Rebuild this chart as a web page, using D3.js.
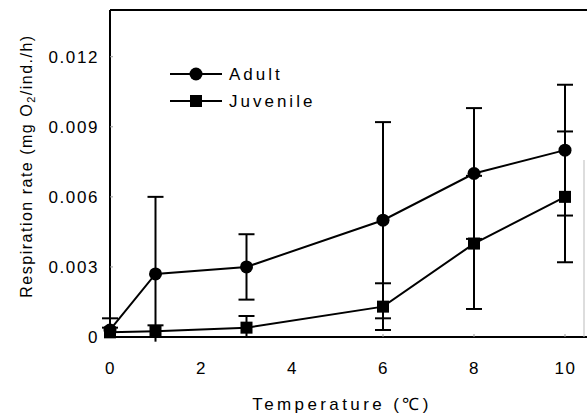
<!DOCTYPE html>
<html>
<head>
<meta charset="utf-8" />
<title>Respiration rate</title>
<style>
    html, body { margin: 0; padding: 0; background: #fff; }
    svg { display: block; font-family: 'Liberation Sans', Arial, sans-serif; }
</style>
</head>
<body>
<div class="canvas"></div>
<script src="https://d3js.org/d3.v7.min.js"></script>
<script>
// temperatures
var temps = [0, 1, 3, 6, 8, 10];
// adult mean, lower and upper error ends
var adult      = [0.0003, 0.0027, 0.0030, 0.0050, 0.0070, 0.0080];
var adultLow   = [0.0000, -0.0002, 0.0016, 0.0008, 0.0042, 0.0052];
var adultHigh  = [0.0008, 0.0060, 0.0044, 0.0092, 0.0098, 0.0108];
// juvenile
var juv        = [0.0002, 0.00025, 0.0004, 0.0013, 0.0040, 0.0060];
var juvLow     = [0.0000, 0.0000, 0.0000, 0.0003, 0.0012, 0.0032];
var juvHigh    = [0.0004, 0.0005, 0.0009, 0.0023, 0.0069, 0.0088];

var xTicks = [0, 2, 4, 6, 8, 10];
var yTicks = [0, 0.003, 0.006, 0.009, 0.012];

var width = 587, height = 417;
var padL = 110, padT = 10, padB = 337, padR = 587;

var svg = d3.select(".canvas").append("svg")
    .attr("width", width)
    .attr("height", height);

var x = d3.scaleLinear().domain([0, 10]).range([padL, 565]);
var y = d3.scaleLinear().domain([0, 0.014]).range([padB, padT]);

// frame: left, top, bottom, faint right
svg.append("line").attr("x1", padL).attr("y1", padT).attr("x2", padL).attr("y2", padB)
    .attr("stroke", "#000").attr("stroke-width", 2);
svg.append("line").attr("x1", padL).attr("y1", padT).attr("x2", padR).attr("y2", padT)
    .attr("stroke", "#000").attr("stroke-width", 2);
svg.append("line").attr("x1", padL).attr("y1", padB).attr("x2", padR).attr("y2", padB)
    .attr("stroke", "#000").attr("stroke-width", 2);
svg.append("line").attr("x1", 584).attr("y1", 160).attr("x2", 584).attr("y2", padB)
    .attr("stroke", "#bbb").attr("stroke-width", 1);

// axis labels via d3 axes, domain hidden
var yAxis = svg.append("g")
    .attr("transform", "translate(" + padL + ",0)")
    .call(d3.axisLeft(y).tickValues(yTicks).tickSize(0).tickPadding(11)
        .tickFormat(function(d){ return d === 0 ? "0" : d3.format(".3f")(d); }));
yAxis.select(".domain").remove();
yAxis.selectAll("text").attr("font-size", 17).attr("fill", "#000")
    .attr("letter-spacing", 1.6).attr("font-family", "'Liberation Sans', Arial, sans-serif");

var xAxis = svg.append("g")
    .attr("transform", "translate(0," + padB + ")")
    .call(d3.axisBottom(x).tickValues(xTicks).tickSize(0).tickPadding(25));
xAxis.select(".domain").remove();
xAxis.selectAll("text").attr("font-size", 17).attr("fill", "#000")
    .attr("letter-spacing", 1.6).attr("font-family", "'Liberation Sans', Arial, sans-serif");

// faint tick dots
svg.selectAll(".yt").data(yTicks.slice(1)).enter().append("line")
    .attr("x1", padL).attr("x2", padL + 3)
    .attr("y1", function(d){ return y(d); }).attr("y2", function(d){ return y(d); })
    .attr("stroke", "#999").attr("stroke-width", 1);
svg.selectAll(".xt").data(temps).enter().append("line")
    .attr("x1", function(d){ return x(d); }).attr("x2", function(d){ return x(d); })
    .attr("y1", padB - 3).attr("y2", padB)
    .attr("stroke", "#999").attr("stroke-width", 1);

// axis titles
svg.append("text")
    .attr("x", 342).attr("y", 410)
    .attr("text-anchor", "middle")
    .attr("font-size", 17).attr("letter-spacing", 3.4)
    .text("Temperature (\u2103)");

var yt = svg.append("text")
    .attr("transform", "translate(32,166) rotate(-90)")
    .attr("text-anchor", "middle")
    .attr("font-size", 16).attr("letter-spacing", 1.5);
yt.append("tspan").text("Respiration rate (mg O");
yt.append("tspan").attr("font-size", 11).attr("dy", 3).text("2");
yt.append("tspan").attr("dy", -3).text("/ind./h)");

function series(means, lows, highs, shape) {
    var g = svg.append("g");
    var pts = temps.map(function(t, i){ return {t: t, m: means[i], lo: lows[i], hi: highs[i]}; });
    // error bars
    pts.forEach(function(p){
        g.append("line")
            .attr("x1", x(p.t)).attr("x2", x(p.t))
            .attr("y1", y(p.hi)).attr("y2", y(p.lo))
            .attr("stroke", "#000").attr("stroke-width", 2);
        [p.hi, p.lo].forEach(function(v){
            if (v <= 0) return;
            g.append("line")
                .attr("x1", x(p.t) - 8).attr("x2", x(p.t) + 8)
                .attr("y1", y(v)).attr("y2", y(v))
                .attr("stroke", "#000").attr("stroke-width", 2);
        });
    });
    g.append("path")
        .datum(pts)
        .attr("fill", "none").attr("stroke", "#000").attr("stroke-width", 2)
        .attr("d", d3.line().x(function(p){ return x(p.t); }).y(function(p){ return y(p.m); }));
    pts.forEach(function(p){ marker(g, x(p.t), y(p.m), shape); });
}

function marker(g, cx, cy, shape) {
    if (shape === "circle") {
        g.append("circle").attr("cx", cx).attr("cy", cy).attr("r", 6.5).attr("fill", "#000");
    } else {
        g.append("rect").attr("x", cx - 6).attr("y", cy - 6)
            .attr("width", 12).attr("height", 12).attr("fill", "#000");
    }
}

series(juv, juvLow, juvHigh, "square");
series(adult, adultLow, adultHigh, "circle");

// legend
var legend = [{name: "Adult", shape: "circle", y: 74}, {name: "Juvenile", shape: "square", y: 101}];
legend.forEach(function(l){
    svg.append("line").attr("x1", 170).attr("x2", 222).attr("y1", l.y).attr("y2", l.y)
        .attr("stroke", "#000").attr("stroke-width", 2);
    marker(svg, 196, l.y, l.shape);
    svg.append("text").attr("x", 229).attr("y", l.y + 6)
        .attr("font-size", 17).attr("letter-spacing", 3)
        .text(l.name);
});
</script>
</body>
</html>
